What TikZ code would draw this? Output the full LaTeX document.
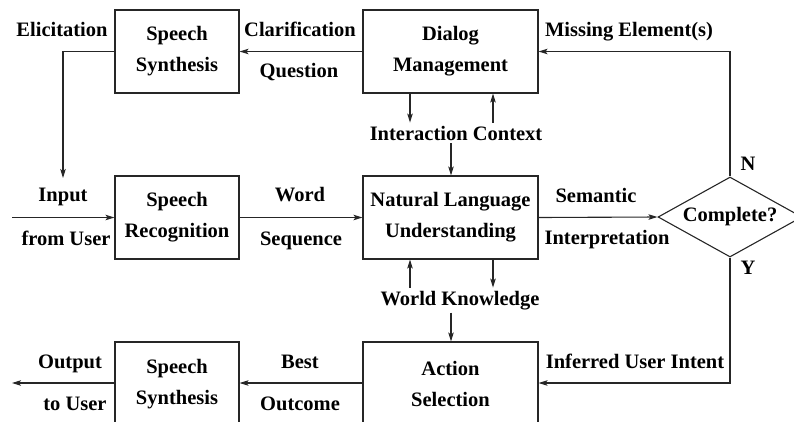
\documentclass[tikz,border=0pt]{standalone}
\usepackage{fontspec}
\setmainfont{Liberation Serif}[BoldFont={Liberation Serif Bold}]
\newfontfamily\tnrb{Liberation Serif Bold}
\usetikzlibrary{arrows.meta,shapes.geometric}
\begin{document}
\begin{tikzpicture}[x=1pt,y=-1pt,
  every node/.style={font=\tnrb\fontsize{20.5}{31}\selectfont},
  box/.style={draw=black!85,line width=1.1pt,align=center,inner sep=0pt},
  sbox/.style={box,minimum width=124pt,minimum height=83pt},
  lbox/.style={box,minimum width=175pt,minimum height=83pt},
  lbl/.style={anchor=base,inner sep=0pt},
  stk/.style={anchor=base,inner sep=3pt},
  arr/.style={draw=black!85,line width=1.1pt,-{Stealth[length=9pt,width=5.5pt,inset=2pt]}}]
\useasboundingbox (0,0) rectangle (794,421);
\clip (0,0) rectangle (794,421);
% boxes
\node[sbox] (ss1) at (177,51.5) {Speech\\Synthesis};
\node[lbox] (dm) at (450.5,51.5) {Dialog\\Management};
\node[sbox] (sr) at (177,217.5) {Speech\\Recognition};
\node[lbox] (nlu) at (450.5,217.5) {Natural Language\\Understanding};
\node[box,minimum width=124pt,minimum height=84pt] (ss2) at (177,384) {Speech\\Synthesis};
\node[box,minimum width=175pt,minimum height=84pt] (as) at (450.5,384) {Action\\Selection};
\node[draw=black!85,line width=1.1pt,shape=diamond,aspect=1.8,inner sep=0pt,minimum width=144pt,minimum height=80pt] (cmp) at (730,217) {Complete?};
% helper coordinates
\coordinate (xa) at (410,0);
\coordinate (xb) at (493,0);
\coordinate (xc) at (451,0);
\coordinate (elic) at (63,178);
\coordinate (inp) at (12,217.5);
\coordinate (outp) at (12,383);
% stacked labels
\node[stk] (ic) at (456,140) {Interaction Context};
\node[stk] (wk) at (460,305) {World Knowledge};
% labels
\node[lbl] (l1) at (62,36) {Elicitation};
\node[lbl] (l2) at (300,36) {Clarification};
\node[lbl] (l3) at (299,77) {Question};
\node[lbl] (l4) at (629,36) {Missing Element(s)};
\node[lbl] (l5) at (63,201) {Input};
\node[lbl] (l6) at (66,245) {from User};
\node[lbl] (l7) at (300,201) {Word};
\node[lbl] (l8) at (301,245) {Sequence};
\node[lbl] (l9) at (596,202) {Semantic};
\node[lbl] (l10) at (607,244) {Interpretation};
\node[lbl] (l11) at (748,170) {N};
\node[lbl] (l12) at (748,274) {Y};
\node[lbl] (l13) at (635,368) {Inferred User Intent};
\node[lbl] (l14) at (70,368) {Output};
\node[lbl] (l15) at (75,410) {to User};
\node[lbl] (l16) at (300,368) {Best};
\node[lbl] (l17) at (300,410) {Outcome};
% connectors
\draw[arr] (dm.west) -- (ss1.east);
\draw[arr] (ss1.west) -| (elic);
\draw[arr] (inp) -- (sr.west);
\draw[arr] (sr.east) -- (nlu.west);
\draw[arr] (nlu.east) -- (cmp.west);
\draw[arr] (cmp.north) |- (dm.east);
\draw[arr] (cmp.south) |- (as.east |- outp);
\draw[arr] (as.west |- outp) -- (ss2.east |- outp);
\draw[arr] (ss2.west |- outp) -- (outp);
\draw[arr] (dm.south -| xa) -- (ic.north -| xa);
\draw[arr] (ic.north -| xb) -- (dm.south -| xb);
\draw[arr] (ic.south -| xc) -- (nlu.north -| xc);
\draw[arr] (wk.north -| xa) -- (nlu.south -| xa);
\draw[arr] (nlu.south -| xb) -- (wk.north -| xb);
\draw[arr] (wk.south -| xc) -- (as.north -| xc);
\end{tikzpicture}
\end{document}
